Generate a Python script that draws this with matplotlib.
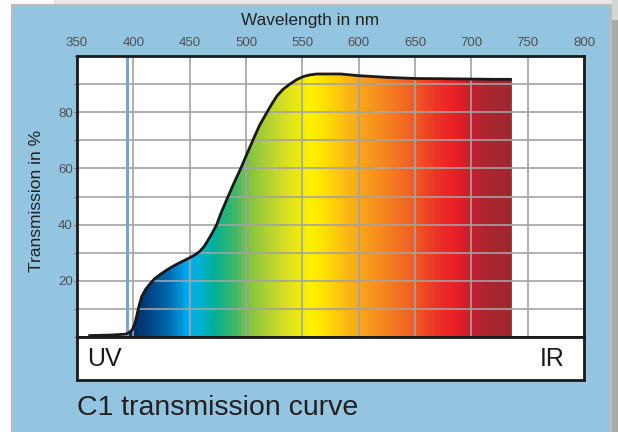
import numpy as np
import matplotlib
matplotlib.use("Agg")
import matplotlib.pyplot as plt
from matplotlib.colors import LinearSegmentedColormap
from matplotlib.patches import Rectangle, Polygon

plt.rcParams['font.family'] = ['Liberation Sans', 'DejaVu Sans']

# ---- data ----
wavelength = [360, 380, 393, 396, 399, 401.5, 403, 405, 407.5, 411, 415, 419, 424,
              431, 438, 445, 450, 455, 459, 463, 466.5, 470, 474, 478, 483, 489,
              495, 501, 506.5, 512, 518.5, 523, 527.5, 533, 539, 545, 551, 557,
              563, 575, 584, 600, 625, 650, 675, 700, 720, 736]
transmission = [0.5, 0.7, 1.0, 1.5, 2.5, 5.0, 7.5, 11.0, 14.5, 17.0, 19.0, 20.8, 22.3,
                24.2, 25.8, 27.2, 28.2, 29.3, 30.5, 32.3, 34.6, 37.0, 40.0, 44.3, 49.0, 54.5,
                59.7, 65.3, 70.4, 75.3, 79.9, 83.0, 85.8, 88.2, 90.0, 91.6, 92.7, 93.3,
                93.6, 93.6, 93.6, 93.0, 92.4, 92.0, 91.9, 91.8, 91.7, 91.7]

x_ticks = [350, 400, 450, 500, 550, 600, 650, 700, 750, 800]
y_ticks = [0, 10, 20, 30, 40, 50, 60, 70, 80, 90, 100]
y_labels = ['', '', '20', '', '40', '', '60', '', '80', '', '']
uv_marker = 394

spectrum_wl = [395, 410, 430, 448, 460, 470, 488, 505, 530, 556, 568, 592, 622, 650, 672, 686, 700, 715, 736]
spectrum_col = ['#002c60', '#003d7c', '#0068ae', '#00aeef', '#00b1cc', '#00b09c', '#3bb66c',
                '#8cc63f', '#cfdc2a', '#fff200', '#ffe300', '#fbb317', '#f5861f', '#f05a24',
                '#ec2e26', '#e91e25', '#c2202f', '#a8272f', '#a0282f']

W, H = 618, 432
fig = plt.figure(figsize=(W / 100, H / 100), dpi=100)
fig.patch.set_facecolor('white')

def fr(x0, y0, x1, y1, **kw):
    # rectangle in pixel coords (y from top)
    r = Rectangle((x0 / W, 1 - y1 / H), (x1 - x0) / W, (y1 - y0) / H,
                  transform=fig.transFigure, zorder=-5, **kw)
    fig.patches.append(r)

# background frame
fr(54, 0, 618, 5, facecolor='#e6e6e6', edgecolor='none')
fr(611, 5, 618, 432, facecolor='#a9a9a9', edgecolor='none')
fr(612, 0, 618, 20, facecolor='#d5d5d5', edgecolor='none')
fr(12, 4.5, 611, 433, facecolor='#93c4e0', edgecolor='#bcbcbc', linewidth=1.5)

# main axes
L, R, T, B = 77, 584, 56, 337
ax = fig.add_axes([L / W, 1 - B / H, (R - L) / W, (B - T) / H])
ax.set_facecolor('white')
ax.set_xlim(350, 800)
ax.set_ylim(0, 100)

cmap = LinearSegmentedColormap.from_list(
    'spec', [((w - spectrum_wl[0]) / (spectrum_wl[-1] - spectrum_wl[0]), c)
             for w, c in zip(spectrum_wl, spectrum_col)])
grad = np.linspace(0, 1, 800).reshape(1, -1)
im = ax.imshow(grad, extent=(spectrum_wl[0], spectrum_wl[-1], 0, 100), aspect='auto',
               cmap=cmap, origin='lower', zorder=0.5, interpolation='bilinear')
verts = [(wavelength[0], 0)] + list(zip(wavelength, transmission)) + [(wavelength[-1], 0)]
poly = Polygon(verts, closed=True, facecolor='none', edgecolor='none', transform=ax.transData)
ax.add_patch(poly)
im.set_clip_path(poly)

ax.axvline(uv_marker, color='#7aa6cc', lw=2.2, zorder=2.5)
ax.plot(wavelength, transmission, color='#1a1a1a', lw=2, zorder=3,
        solid_capstyle='butt', solid_joinstyle='round')

ax.set_xticks(x_ticks)
ax.set_yticks(y_ticks)
ax.set_yticklabels(y_labels)
ax.grid(True, color='#a3a3a3', lw=1.2)
ax.xaxis.tick_top()
ax.tick_params(axis='x', length=0, pad=5, labelsize=9.5, labelcolor='#505050')
ax.tick_params(axis='y', length=2.2, width=0.8, color='#777777', pad=0.8, labelsize=9.5,
               labelcolor='#505050')
for s in ax.spines.values():
    s.set_color('#1a1a1a')
    s.set_linewidth(2)

# UV / IR box
bx = fig.add_axes([L / W, 1 - 380 / H, (R - L) / W, (380 - B) / H])
bx.set_facecolor('white')
bx.set_xticks([])
bx.set_yticks([])
for s in bx.spines.values():
    s.set_color('#1a1a1a')
    s.set_linewidth(2)
bx.text(0.02, 0.5, 'UV', transform=bx.transAxes, ha='left', va='center',
        fontsize=18, color='#1a1a1a')
bx.text(0.962, 0.5, 'IR', transform=bx.transAxes, ha='right', va='center',
        fontsize=18, color='#1a1a1a')

fig.text(310 / W, 1 - 21 / H, 'Wavelength in nm', ha='center', va='center',
         fontsize=12.4, color='#222222')
fig.text(37 / W, 1 - 201 / H, 'Transmission in %', ha='center', va='center',
         rotation=90, fontsize=12.5, color='#222222')
fig.text(77 / W, 1 - 408 / H, 'C1 transmission curve', ha='left', va='center',
         fontsize=20.5, color='#231f20')

fig.savefig('out.png', dpi=100, facecolor='white')
